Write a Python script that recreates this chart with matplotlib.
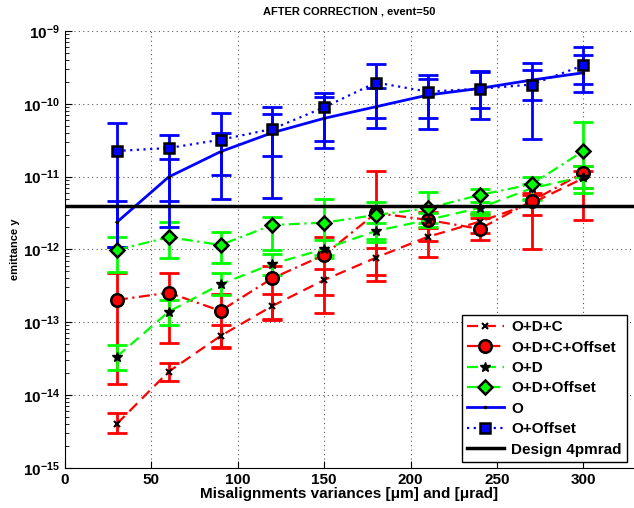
import matplotlib
matplotlib.use("Agg")
import matplotlib.pyplot as plt
import numpy as np
from matplotlib.ticker import FixedLocator, FuncFormatter, NullFormatter

# Misalignment variances (um / urad)
x = [30, 60, 90, 120, 150, 180, 210, 240, 270, 300]
x_ticks = [0, 50, 100, 150, 200, 250, 300]
y_decades = [-15, -14, -13, -12, -11, -10, -9]

# O+D+C
odc = [4.0e-15, 2.09e-14, 6.46e-14, 1.67e-13, 3.8e-13, 7.7e-13, 1.49e-12, 2.4e-12, 4.3e-12, 9.5e-12]
odc_hi = [5.71e-15, 2.72e-14, 9.15e-14, 2.42e-13, 5.33e-13, 1.03e-12, 1.95e-12, 3.1e-12, 5.6e-12, 1.2e-11]
odc_lo = [2.98e-15, 1.57e-14, 4.35e-14, 1.07e-13, 2.37e-13, 4.45e-13, 7.94e-13, 1.7e-12, 3.0e-12, 7.0e-12]

# O+D+C+Offset
odco = [2.02e-13, 2.54e-13, 1.43e-13, 4.01e-13, 8.37e-13, 3.16e-12, 2.54e-12, 1.91e-12, 4.6e-12, 1.13e-11]
odco_hi = [4.70e-13, 4.70e-13, 2.4e-13, 6.0e-13, 1.49e-12, 1.19e-11, 3.3e-12, 2.67e-12, 6.0e-12, 1.4e-11]
odco_lo = [1.42e-14, 5.13e-14, 4.5e-14, 1.1e-13, 1.32e-13, 3.68e-13, 1.3e-12, 1.35e-12, 1.0e-12, 2.5e-12]

# O+D
od = [3.36e-14, 1.39e-13, 3.32e-13, 6.30e-13, 1.01e-12, 1.79e-12, 2.54e-12, 3.71e-12, 6.9e-12, 9.97e-12]
od_hi = [4.86e-14, 2.02e-13, 4.70e-13, 8.65e-13, 1.35e-12, 2.3e-12, 3.2e-12, 4.5e-12, 8.0e-12, 1.4e-11]
od_lo = [2.21e-14, 9.15e-14, 2.36e-13, 4.45e-13, 7.6e-13, 1.4e-12, 2.0e-12, 3.0e-12, 5.0e-12, 7.0e-12]

# O+D+Offset
odo = [9.82e-13, 1.47e-12, 1.15e-12, 2.16e-12, 2.33e-12, 2.97e-12, 3.67e-12, 5.59e-12, 7.84e-12, 2.25e-11]
odo_hi = [1.47e-12, 2.38e-12, 1.73e-12, 2.81e-12, 4.88e-12, 4.52e-12, 6.21e-12, 6.70e-12, 9.97e-12, 5.62e-11]
odo_lo = [4.94e-13, 7.62e-13, 6.44e-13, 9.82e-13, 8.38e-13, 1.28e-12, 2.28e-12, 3.30e-12, 4.77e-12, 5.90e-12]

# O
o = [2.36e-12, 9.88e-12, 2.20e-11, 4.01e-11, 6.32e-11, 9.12e-11, 1.32e-10, 1.63e-10, 2.12e-10, 2.67e-10]
o_hi = [4.62e-12, 1.76e-11, 3.94e-11, 7.24e-11, 1.25e-10, 1.63e-10, 2.17e-10, 2.73e-10, 2.91e-10, 4.68e-10]
o_lo = [1.09e-12, 2.01e-12, 4.92e-12, 5.08e-12, 2.45e-11, 4.61e-11, 4.47e-11, 6.24e-11, 3.25e-11, 1.44e-10]

# O+Offset
oo = [2.25e-11, 2.47e-11, 3.21e-11, 4.51e-11, 8.95e-11, 1.96e-10, 1.47e-10, 1.61e-10, 1.84e-10, 3.38e-10]
oo_hi = [5.40e-11, 3.77e-11, 7.40e-11, 9.12e-11, 1.42e-10, 3.52e-10, 2.51e-10, 2.85e-10, 3.67e-10, 6.08e-10]
oo_lo = [1.09e-12, 4.58e-12, 1.04e-11, 1.92e-11, 3.08e-11, 6.32e-11, 6.44e-11, 8.68e-11, 1.13e-10, 1.85e-10]

design = 4e-12

RED = (1, 0, 0)
GREEN = (0, 1, 0)
BLUE = (0, 0, 1)


def yerr(y, lo, hi):
    y = np.array(y)
    return [y - np.array(lo), np.array(hi) - y]


def main() -> None:
    plt.rcParams["font.family"] = ["Liberation Sans", "DejaVu Sans"]
    plt.rcParams["font.weight"] = "bold"
    plt.rcParams["mathtext.fontset"] = "custom"
    plt.rcParams["mathtext.bf"] = "Liberation Sans:bold"
    plt.rcParams["mathtext.rm"] = "Liberation Sans:bold"

    fig = plt.figure(figsize=(6.34, 5.08), dpi=100)
    ax = fig.add_axes([0.1025, 0.0793, 0.8975, 0.8596])

    series = [
        (odc, odc_lo, odc_hi, RED, (0, (5, 3)), dict(marker="x", mfc="k", mec="k", ms=5, mew=1.5), "O+D+C"),
        (odco, odco_lo, odco_hi, RED, (0, (5, 2, 1, 2)), dict(marker="o", mfc=RED, mec="k", ms=9, mew=1.8), "O+D+C+Offset"),
        (od, od_lo, od_hi, GREEN, (0, (5, 3)), dict(marker="*", mfc="k", mec="k", ms=7, mew=1), "O+D"),
        (odo, odo_lo, odo_hi, GREEN, (0, (5, 2, 1, 2)), dict(marker="D", mfc=GREEN, mec="k", ms=7, mew=1.8), "O+D+Offset"),
        (o, o_lo, o_hi, BLUE, "-", dict(marker=".", mfc="k", mec="k", ms=3), "O"),
        (oo, oo_lo, oo_hi, BLUE, (0, (1, 2)), dict(marker="s", mfc=BLUE, mec="k", ms=7, mew=1.8), "O+Offset"),
    ]

    for y, lo, hi, col, ls, mk, lab in series:
        ax.errorbar(x, y, yerr=yerr(y, lo, hi), fmt="none", ecolor=col,
                    elinewidth=2, capsize=7, capthick=2, zorder=2)
        lw = 2 if ls == "-" else 1.6
        ax.plot(x, y, color=col, ls=ls, lw=lw, label=lab, zorder=3, **mk)

    ax.axhline(design, color="k", lw=2.5, label="Design 4pmrad", zorder=4)

    ax.set_yscale("log")
    ax.set_ylim(1e-15, 1e-9)
    ax.set_xlim(0, 329.3)
    ax.xaxis.set_major_locator(FixedLocator(x_ticks))
    ax.yaxis.set_major_locator(FixedLocator([10.0 ** d for d in y_decades]))
    minors = [m * 10.0 ** d for d in y_decades[:-1] for m in range(2, 10)]
    ax.yaxis.set_minor_locator(FixedLocator(minors))
    ax.yaxis.set_minor_formatter(NullFormatter())
    ax.yaxis.set_major_formatter(FuncFormatter(
        lambda v, p: r"$\mathbf{10^{%d}}$" % round(np.log10(v))))

    ax.grid(True, which="major", ls=(0, (1, 3)), color="0.35", lw=0.8)
    ax.tick_params(which="both", direction="in", labelsize=11)
    ax.tick_params(which="major", length=5)
    ax.tick_params(which="minor", length=3)
    for s in ("top", "right"):
        ax.spines[s].set_visible(False)
    for lab in ax.get_xticklabels():
        lab.set_fontweight("bold")

    fig.text(0.551, 1 - 494 / 508, "Misalignments variances [\u03bcm] and [\u03bcrad]",
             ha="center", va="center", fontsize=11, fontweight="bold")
    ax.set_ylabel("emittance y", fontsize=8, fontweight="bold", labelpad=2)
    fig.text(0.551, 1 - 12 / 508, "AFTER CORRECTION , event=50", ha="center",
             va="center", fontsize=8, fontweight="bold")

    leg = ax.legend(loc="lower right", bbox_to_anchor=(627 / 634, 1 - 462 / 508),
                    bbox_transform=fig.transFigure, borderaxespad=0, fontsize=11,
                    fancybox=False, framealpha=1, edgecolor="k", handlelength=2.4,
                    labelspacing=0.42, borderpad=0.35, handletextpad=0.5)
    leg.get_frame().set_linewidth(1)

    fig.savefig("out.png", dpi=100)


if __name__ == "__main__":
    main()
